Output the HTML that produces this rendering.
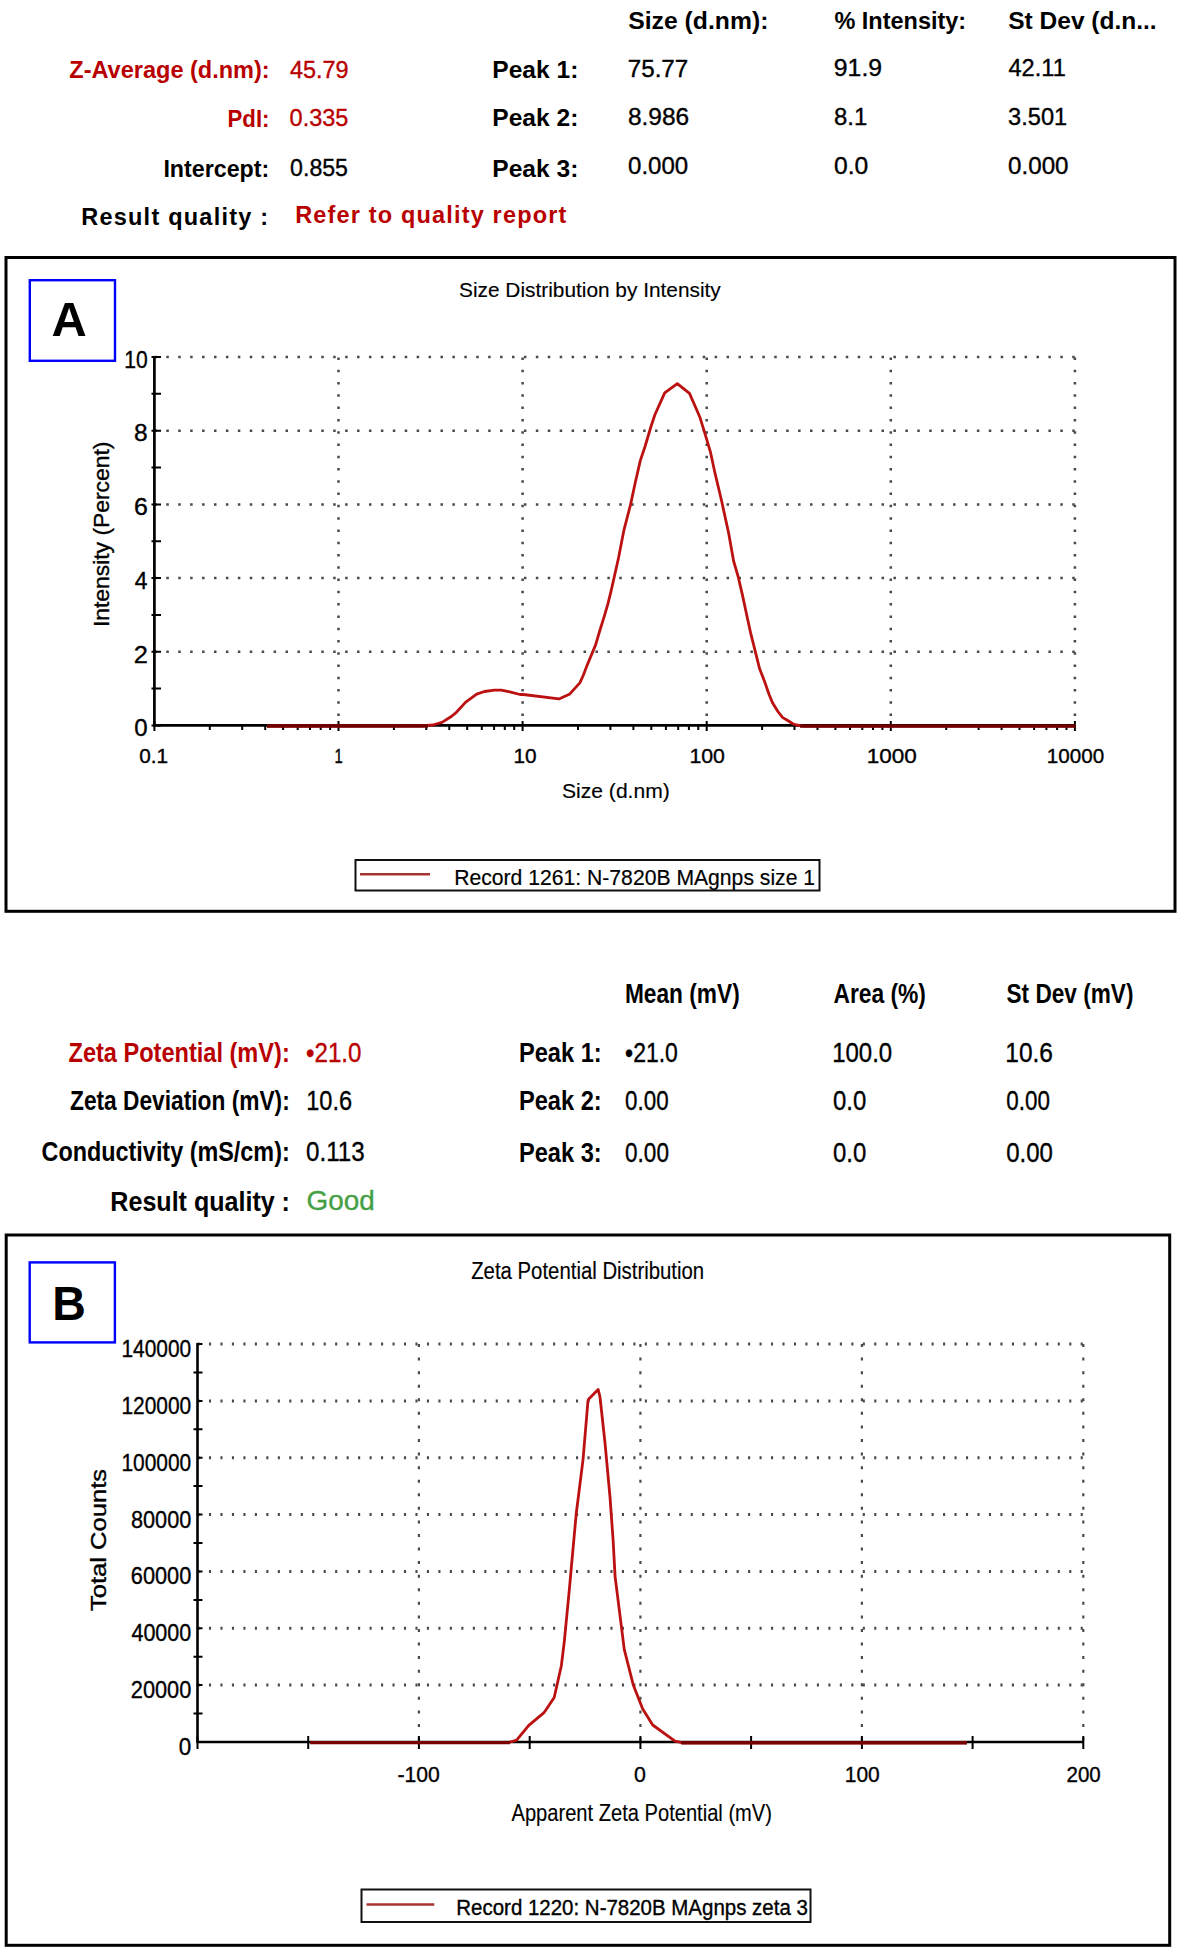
<!DOCTYPE html>
<html><head><meta charset="utf-8"><style>
html,body{margin:0;padding:0;background:#fff;}
body{width:1181px;height:1952px;overflow:hidden;}
svg{display:block;font-family:"Liberation Sans",sans-serif;}
</style></head><body>
<svg width="1181" height="1952" viewBox="0 0 1181 1952">
<rect width="1181" height="1952" fill="#fff"/>
<text x="628.26" y="29.30" font-size="23.5" font-weight="bold" fill="#000" textLength="140.12" lengthAdjust="spacingAndGlyphs">Size (d.nm):</text>
<text x="834.40" y="28.50" font-size="23.5" font-weight="bold" fill="#000" textLength="131.78" lengthAdjust="spacingAndGlyphs">% Intensity:</text>
<text x="1008.27" y="29.00" font-size="23.5" font-weight="bold" fill="#000" textLength="148.42" lengthAdjust="spacingAndGlyphs">St Dev (d.n...</text>
<text x="69.30" y="78.00" font-size="23.5" font-weight="bold" fill="#b80000" textLength="200.40" lengthAdjust="spacingAndGlyphs">Z-Average (d.nm):</text>
<text x="290.00" y="78.00" font-size="23.5" font-weight="normal" fill="#b80000" stroke="#b80000" stroke-width="0.35" textLength="58.61" lengthAdjust="spacingAndGlyphs">45.79</text>
<text x="492.33" y="78.00" font-size="23.5" font-weight="bold" fill="#000" textLength="85.98" lengthAdjust="spacingAndGlyphs">Peak 1:</text>
<text x="627.77" y="76.50" font-size="23.5" font-weight="normal" fill="#000" stroke="#000" stroke-width="0.35" textLength="60.48" lengthAdjust="spacingAndGlyphs">75.77</text>
<text x="833.84" y="76.00" font-size="23.5" font-weight="normal" fill="#000" stroke="#000" stroke-width="0.35" textLength="48.26" lengthAdjust="spacingAndGlyphs">91.9</text>
<text x="1008.50" y="76.00" font-size="23.5" font-weight="normal" fill="#000" stroke="#000" stroke-width="0.35" textLength="57.27" lengthAdjust="spacingAndGlyphs">42.11</text>
<text x="227.49" y="126.50" font-size="23.5" font-weight="bold" fill="#b80000" textLength="41.98" lengthAdjust="spacingAndGlyphs">PdI:</text>
<text x="289.60" y="125.50" font-size="23.5" font-weight="normal" fill="#b80000" stroke="#b80000" stroke-width="0.35" textLength="58.81" lengthAdjust="spacingAndGlyphs">0.335</text>
<text x="492.33" y="125.50" font-size="23.5" font-weight="bold" fill="#000" textLength="85.98" lengthAdjust="spacingAndGlyphs">Peak 2:</text>
<text x="627.96" y="125.00" font-size="23.5" font-weight="normal" fill="#000" stroke="#000" stroke-width="0.35" textLength="61.20" lengthAdjust="spacingAndGlyphs">8.986</text>
<text x="833.98" y="125.30" font-size="23.5" font-weight="normal" fill="#000" stroke="#000" stroke-width="0.35" textLength="33.21" lengthAdjust="spacingAndGlyphs">8.1</text>
<text x="1008.10" y="125.30" font-size="23.5" font-weight="normal" fill="#000" stroke="#000" stroke-width="0.35" textLength="59.12" lengthAdjust="spacingAndGlyphs">3.501</text>
<text x="163.42" y="176.50" font-size="23.5" font-weight="bold" fill="#000" textLength="105.83" lengthAdjust="spacingAndGlyphs">Intercept:</text>
<text x="290.11" y="176.30" font-size="23.5" font-weight="normal" fill="#000" stroke="#000" stroke-width="0.35" textLength="57.88" lengthAdjust="spacingAndGlyphs">0.855</text>
<text x="492.33" y="176.50" font-size="23.5" font-weight="bold" fill="#000" textLength="85.98" lengthAdjust="spacingAndGlyphs">Peak 3:</text>
<text x="628.08" y="174.00" font-size="23.5" font-weight="normal" fill="#000" stroke="#000" stroke-width="0.35" textLength="60.15" lengthAdjust="spacingAndGlyphs">0.000</text>
<text x="834.06" y="174.30" font-size="23.5" font-weight="normal" fill="#000" stroke="#000" stroke-width="0.35" textLength="34.26" lengthAdjust="spacingAndGlyphs">0.0</text>
<text x="1008.07" y="174.30" font-size="23.5" font-weight="normal" fill="#000" stroke="#000" stroke-width="0.35" textLength="60.46" lengthAdjust="spacingAndGlyphs">0.000</text>
<text x="81.23" y="225.00" font-size="23.5" font-weight="bold" fill="#000" textLength="186.86" lengthAdjust="spacing">Result quality :</text>
<text x="295.23" y="223.00" font-size="23.5" font-weight="bold" fill="#b80000" textLength="271.08" lengthAdjust="spacing">Refer to quality report</text>
<rect x="6" y="257.5" width="1169" height="653.8" fill="none" stroke="#000" stroke-width="3"/>
<rect x="29.8" y="280.2" width="85.2" height="80.6" fill="none" stroke="#0000ff" stroke-width="2.4"/>
<text x="51.48" y="336.00" font-size="48" font-weight="bold" fill="#000" textLength="35.20" lengthAdjust="spacingAndGlyphs">A</text>
<text x="459.01" y="297.40" font-size="21" font-weight="normal" fill="#000" stroke="#000" stroke-width="0.15" textLength="261.78" lengthAdjust="spacingAndGlyphs">Size Distribution by Intensity</text>
<path d="M154.4 357.0H1075.9 M154.4 430.7H1075.9 M154.4 504.4H1075.9 M154.4 578.0H1075.9 M154.4 651.7H1075.9" stroke="#4a4a4a" stroke-width="2.5" stroke-dasharray="2.5 9.42" fill="none"/>
<path d="M338.5 357.0V725.4 M522.6 357.0V725.4 M706.7 357.0V725.4 M890.8 357.0V725.4 M1074.9 357.0V725.4" stroke="#4a4a4a" stroke-width="2.5" stroke-dasharray="2.5 9.78" stroke-dashoffset="-0.5" fill="none"/>
<path d="M154.4 356.0V725.4H1074.9" stroke="#000" stroke-width="2.7" fill="none"/>
<path d="M151.5 725.4H161 M151.5 688.6H161 M151.5 651.7H161 M151.5 614.9H161 M151.5 578.0H161 M151.5 541.2H161 M151.5 504.4H161 M151.5 467.5H161 M151.5 430.7H161 M151.5 393.8H161 M151.5 357.0H161 M154.4 721V731 M209.8 724V730 M242.2 724V730 M265.2 724V730 M283.1 724V730 M297.7 724V730 M310.0 724V730 M320.7 724V730 M330.1 724V730 M338.5 721V731 M393.9 724V730 M426.3 724V730 M449.3 724V730 M467.2 724V730 M481.8 724V730 M494.1 724V730 M504.8 724V730 M514.2 724V730 M522.6 721V731 M578.0 724V730 M610.4 724V730 M633.4 724V730 M651.3 724V730 M665.9 724V730 M678.2 724V730 M688.9 724V730 M698.3 724V730 M706.7 721V731 M762.1 724V730 M794.5 724V730 M817.5 724V730 M835.4 724V730 M850.0 724V730 M862.3 724V730 M873.0 724V730 M882.4 724V730 M890.8 721V731 M946.2 724V730 M978.6 724V730 M1001.6 724V730 M1019.5 724V730 M1034.1 724V730 M1046.4 724V730 M1057.1 724V730 M1066.5 724V730 M1074.9 721V731" stroke="#000" stroke-width="2" fill="none"/>
<text x="124.35" y="367.80" font-size="23" font-weight="normal" fill="#000" stroke="#000" stroke-width="0.35" textLength="23.46" lengthAdjust="spacingAndGlyphs">10</text>
<text x="134.14" y="441.48" font-size="23" font-weight="normal" fill="#000" stroke="#000" stroke-width="0.35" textLength="13.62" lengthAdjust="spacingAndGlyphs">8</text>
<text x="133.90" y="515.16" font-size="23" font-weight="normal" fill="#000" stroke="#000" stroke-width="0.35" textLength="13.88" lengthAdjust="spacingAndGlyphs">6</text>
<text x="134.70" y="588.84" font-size="23" font-weight="normal" fill="#000" stroke="#000" stroke-width="0.35" textLength="12.68" lengthAdjust="spacingAndGlyphs">4</text>
<text x="133.87" y="662.52" font-size="23" font-weight="normal" fill="#000" stroke="#000" stroke-width="0.35" textLength="14.15" lengthAdjust="spacingAndGlyphs">2</text>
<text x="134.26" y="736.20" font-size="23" font-weight="normal" fill="#000" stroke="#000" stroke-width="0.35" textLength="13.37" lengthAdjust="spacingAndGlyphs">0</text>
<text x="139.17" y="763.00" font-size="20" font-weight="normal" fill="#000" stroke="#000" stroke-width="0.35" textLength="28.87" lengthAdjust="spacingAndGlyphs">0.1</text>
<text x="334.48" y="763.00" font-size="20" font-weight="normal" fill="#000" stroke="#000" stroke-width="0.35" textLength="8.28" lengthAdjust="spacingAndGlyphs">1</text>
<text x="513.44" y="763.00" font-size="20" font-weight="normal" fill="#000" stroke="#000" stroke-width="0.35" textLength="23.14" lengthAdjust="spacingAndGlyphs">10</text>
<text x="689.40" y="763.00" font-size="20" font-weight="normal" fill="#000" stroke="#000" stroke-width="0.35" textLength="35.52" lengthAdjust="spacingAndGlyphs">100</text>
<text x="866.81" y="763.00" font-size="20" font-weight="normal" fill="#000" stroke="#000" stroke-width="0.35" textLength="50.08" lengthAdjust="spacingAndGlyphs">1000</text>
<text x="1046.85" y="763.00" font-size="20" font-weight="normal" fill="#000" stroke="#000" stroke-width="0.35" textLength="57.39" lengthAdjust="spacingAndGlyphs">10000</text>
<text x="562.00" y="797.60" font-size="21" font-weight="normal" fill="#000" stroke="#000" stroke-width="0.15" textLength="107.77" lengthAdjust="spacingAndGlyphs">Size (d.nm)</text>
<g transform="translate(108.5,625) rotate(-90)">
<text x="-2.08" y="0.00" font-size="22" font-weight="normal" fill="#000" stroke="#000" stroke-width="0.35" textLength="185.45" lengthAdjust="spacingAndGlyphs">Intensity (Percent)</text>
</g>
<rect x="355.5" y="860" width="464" height="30.5" fill="none" stroke="#111" stroke-width="2"/>
<path d="M360 874.3H430" stroke="#a83232" stroke-width="2.5"/>
<text x="454.23" y="884.60" font-size="21.5" font-weight="normal" fill="#000" stroke="#000" stroke-width="0.2" textLength="360.86" lengthAdjust="spacingAndGlyphs">Record 1261: N-7820B MAgnps size 1</text>
<polyline points="267,726 420,725.8 432.7,725 442,722.4 451.3,716.5 456.4,712.3 465.7,702.1 476.7,694.1 484.4,691.5 494.5,690.2 501.3,690.2 509.8,691.9 520,694.5 523.3,694.5 558.9,698.9 569.9,693.9 580,682.6 583.3,675.2 587.4,664.6 591.5,654.8 595.6,644.9 599.7,631 603.8,617.9 607.9,603.9 611.1,590.8 615.2,572.8 618.5,558 623.8,530.7 630.6,504.4 635.4,482 640.3,460.6 645.2,446 651,426.5 654.9,414.8 664.7,392.9 677.3,383.6 689.5,393.4 699.7,416.7 704.6,432.3 710.4,451.8 715,473.2 721.4,500 728.8,533.9 733.6,561 738.3,577.2 742.4,594.9 747.8,620 750.8,633.6 754.2,647.1 756.9,657.9 759.6,668.8 764.4,681 769.1,694.5 772.5,702.7 777.9,711.5 782.7,717.6 787.4,720.3 792.8,723.7 796.2,725 804.4,726.2 1075,726.2" fill="none" stroke="#bb1111" stroke-width="2.8" stroke-linejoin="round"/>
<path d="M267 726H428 M800 726.1H1075.5" stroke="#720000" stroke-width="3.4" fill="none"/>
<text x="624.91" y="1002.80" font-size="27.5" font-weight="bold" fill="#000" textLength="114.80" lengthAdjust="spacingAndGlyphs">Mean (mV)</text>
<text x="833.42" y="1003.00" font-size="27.5" font-weight="bold" fill="#000" textLength="92.51" lengthAdjust="spacingAndGlyphs">Area (%)</text>
<text x="1006.54" y="1003.00" font-size="27.5" font-weight="bold" fill="#000" textLength="126.96" lengthAdjust="spacingAndGlyphs">St Dev (mV)</text>
<text x="68.51" y="1061.80" font-size="27.5" font-weight="bold" fill="#b80000" textLength="221.23" lengthAdjust="spacingAndGlyphs">Zeta Potential (mV):</text>
<text x="306.04" y="1061.80" font-size="27.5" font-weight="normal" fill="#b80000" stroke="#b80000" stroke-width="0.35" textLength="55.39" lengthAdjust="spacingAndGlyphs">•21.0</text>
<text x="518.95" y="1061.80" font-size="27.5" font-weight="bold" fill="#000" textLength="82.69" lengthAdjust="spacingAndGlyphs">Peak 1:</text>
<text x="625.08" y="1061.80" font-size="27.5" font-weight="normal" fill="#000" stroke="#000" stroke-width="0.35" textLength="52.80" lengthAdjust="spacingAndGlyphs">•21.0</text>
<text x="832.17" y="1062.00" font-size="27.5" font-weight="normal" fill="#000" stroke="#000" stroke-width="0.35" textLength="60.00" lengthAdjust="spacingAndGlyphs">100.0</text>
<text x="1005.33" y="1062.00" font-size="27.5" font-weight="normal" fill="#000" stroke="#000" stroke-width="0.35" textLength="47.66" lengthAdjust="spacingAndGlyphs">10.6</text>
<text x="70.04" y="1110.00" font-size="27.5" font-weight="bold" fill="#000" textLength="219.67" lengthAdjust="spacingAndGlyphs">Zeta Deviation (mV):</text>
<text x="306.20" y="1110.00" font-size="27.5" font-weight="normal" fill="#000" stroke="#000" stroke-width="0.35" textLength="45.85" lengthAdjust="spacingAndGlyphs">10.6</text>
<text x="518.95" y="1110.10" font-size="27.5" font-weight="bold" fill="#000" textLength="82.69" lengthAdjust="spacingAndGlyphs">Peak 2:</text>
<text x="625.11" y="1110.00" font-size="27.5" font-weight="normal" fill="#000" stroke="#000" stroke-width="0.35" textLength="43.51" lengthAdjust="spacingAndGlyphs">0.00</text>
<text x="833.04" y="1110.00" font-size="27.5" font-weight="normal" fill="#000" stroke="#000" stroke-width="0.35" textLength="33.24" lengthAdjust="spacingAndGlyphs">0.0</text>
<text x="1006.30" y="1110.00" font-size="27.5" font-weight="normal" fill="#000" stroke="#000" stroke-width="0.35" textLength="43.61" lengthAdjust="spacingAndGlyphs">0.00</text>
<text x="41.56" y="1161.00" font-size="27.5" font-weight="bold" fill="#000" textLength="248.17" lengthAdjust="spacingAndGlyphs">Conductivity (mS/cm):</text>
<text x="306.03" y="1161.00" font-size="27.5" font-weight="normal" fill="#000" stroke="#000" stroke-width="0.35" textLength="58.60" lengthAdjust="spacingAndGlyphs">0.113</text>
<text x="518.95" y="1161.60" font-size="27.5" font-weight="bold" fill="#000" textLength="82.69" lengthAdjust="spacingAndGlyphs">Peak 3:</text>
<text x="625.10" y="1162.00" font-size="27.5" font-weight="normal" fill="#000" stroke="#000" stroke-width="0.35" textLength="43.82" lengthAdjust="spacingAndGlyphs">0.00</text>
<text x="833.04" y="1162.00" font-size="27.5" font-weight="normal" fill="#000" stroke="#000" stroke-width="0.35" textLength="33.24" lengthAdjust="spacingAndGlyphs">0.0</text>
<text x="1006.24" y="1162.00" font-size="27.5" font-weight="normal" fill="#000" stroke="#000" stroke-width="0.35" textLength="46.74" lengthAdjust="spacingAndGlyphs">0.00</text>
<text x="110.36" y="1210.60" font-size="27.5" font-weight="bold" fill="#000" textLength="179.61" lengthAdjust="spacingAndGlyphs">Result quality :</text>
<text x="306.58" y="1209.80" font-size="27.5" font-weight="normal" fill="#45a045" stroke="#45a045" stroke-width="0.35" textLength="68.22" lengthAdjust="spacingAndGlyphs">Good</text>
<rect x="6.2" y="1235" width="1163.5" height="710.3" fill="none" stroke="#000" stroke-width="3"/>
<rect x="29.7" y="1262.4" width="85.2" height="80" fill="none" stroke="#0000ff" stroke-width="2.4"/>
<text x="52.30" y="1319.80" font-size="48" font-weight="bold" fill="#000" textLength="33.60" lengthAdjust="spacingAndGlyphs">B</text>
<text x="471.18" y="1279.20" font-size="23" font-weight="normal" fill="#000" stroke="#000" stroke-width="0.15" textLength="233.01" lengthAdjust="spacingAndGlyphs">Zeta Potential Distribution</text>
<path d="M197.5 1685.1H1084.3 M197.5 1628.3H1084.3 M197.5 1571.4H1084.3 M197.5 1514.6H1084.3 M197.5 1457.7H1084.3 M197.5 1400.9H1084.3 M197.5 1344.0H1084.3" stroke="#4a4a4a" stroke-width="3" stroke-dasharray="2.1 9.37" fill="none"/>
<path d="M418.9 1344V1742 M640.4 1344V1742 M861.9 1344V1742 M1083.3 1344V1742" stroke="#4a4a4a" stroke-width="2.2" stroke-dasharray="3 10.57" fill="none"/>
<path d="M197.5 1343V1742H1083.3" stroke="#000" stroke-width="2.6" fill="none"/>
<path d="M197.5 1742.0H202.5 M193.5 1713.6H202.5 M197.5 1685.1H202.5 M193.5 1656.7H202.5 M197.5 1628.3H202.5 M193.5 1599.9H202.5 M197.5 1571.4H202.5 M193.5 1543.0H202.5 M197.5 1514.6H202.5 M193.5 1486.1H202.5 M197.5 1457.7H202.5 M193.5 1429.3H202.5 M197.5 1400.9H202.5 M193.5 1372.4H202.5 M197.5 1344.0H202.5 M197.5 1736V1749 M308.2 1736V1749 M418.9 1736V1749 M529.7 1736V1749 M640.4 1736V1749 M751.1 1736V1749 M861.9 1736V1749 M972.6 1736V1749 M1083.3 1736V1749" stroke="#000" stroke-width="2" fill="none"/>
<text x="178.84" y="1755.00" font-size="23.5" font-weight="normal" fill="#000" stroke="#000" stroke-width="0.35" textLength="12.49" lengthAdjust="spacingAndGlyphs">0</text>
<text x="130.79" y="1698.14" font-size="23.5" font-weight="normal" fill="#000" stroke="#000" stroke-width="0.35" textLength="60.50" lengthAdjust="spacingAndGlyphs">20000</text>
<text x="131.44" y="1641.29" font-size="23.5" font-weight="normal" fill="#000" stroke="#000" stroke-width="0.35" textLength="59.84" lengthAdjust="spacingAndGlyphs">40000</text>
<text x="130.79" y="1584.43" font-size="23.5" font-weight="normal" fill="#000" stroke="#000" stroke-width="0.35" textLength="60.50" lengthAdjust="spacingAndGlyphs">60000</text>
<text x="130.98" y="1527.57" font-size="23.5" font-weight="normal" fill="#000" stroke="#000" stroke-width="0.35" textLength="60.31" lengthAdjust="spacingAndGlyphs">80000</text>
<text x="121.50" y="1470.71" font-size="23.5" font-weight="normal" fill="#000" stroke="#000" stroke-width="0.35" textLength="69.73" lengthAdjust="spacingAndGlyphs">100000</text>
<text x="121.50" y="1413.86" font-size="23.5" font-weight="normal" fill="#000" stroke="#000" stroke-width="0.35" textLength="69.73" lengthAdjust="spacingAndGlyphs">120000</text>
<text x="121.50" y="1357.00" font-size="23.5" font-weight="normal" fill="#000" stroke="#000" stroke-width="0.35" textLength="69.73" lengthAdjust="spacingAndGlyphs">140000</text>
<text x="397.44" y="1782.40" font-size="22" font-weight="normal" fill="#000" stroke="#000" stroke-width="0.35" textLength="42.36" lengthAdjust="spacingAndGlyphs">-100</text>
<text x="633.93" y="1782.40" font-size="22" font-weight="normal" fill="#000" stroke="#000" stroke-width="0.35" textLength="11.89" lengthAdjust="spacingAndGlyphs">0</text>
<text x="844.78" y="1782.40" font-size="22" font-weight="normal" fill="#000" stroke="#000" stroke-width="0.35" textLength="34.99" lengthAdjust="spacingAndGlyphs">100</text>
<text x="1066.47" y="1782.40" font-size="22" font-weight="normal" fill="#000" stroke="#000" stroke-width="0.35" textLength="34.28" lengthAdjust="spacingAndGlyphs">200</text>
<text x="511.52" y="1821.00" font-size="24" font-weight="normal" fill="#000" stroke="#000" stroke-width="0.15" textLength="260.47" lengthAdjust="spacingAndGlyphs">Apparent Zeta Potential (mV)</text>
<g transform="translate(105.5,1610.5) rotate(-90)">
<text x="-0.59" y="0.00" font-size="21.5" font-weight="normal" fill="#000" stroke="#000" stroke-width="0.35" textLength="142.14" lengthAdjust="spacingAndGlyphs">Total Counts</text>
</g>
<rect x="361.5" y="1889.5" width="449" height="32.5" fill="none" stroke="#111" stroke-width="2"/>
<path d="M366.5 1904.6H434.3" stroke="#a83232" stroke-width="2.5"/>
<text x="456.29" y="1915.20" font-size="21.5" font-weight="normal" fill="#000" stroke="#000" stroke-width="0.35" textLength="351.58" lengthAdjust="spacingAndGlyphs">Record 1220: N-7820B MAgnps zeta 3</text>
<polyline points="310,1742.5 508.4,1742.5 516.6,1740.2 528.8,1725.3 544,1712.7 554.2,1697.5 561.3,1666 564.3,1641.6 569.4,1588.8 572,1560 576.2,1514 583,1459.8 588,1400.5 589,1398.8 598.2,1389.5 600,1397 605,1442.8 610,1497 613.1,1540 615.1,1576.6 624.3,1649.7 633.4,1685.3 642.6,1708.7 652.7,1725 675,1741.2 683.2,1742.8 967,1742.8" fill="none" stroke="#bb1111" stroke-width="2.8" stroke-linejoin="round"/>
<path d="M310 1742.7H510 M681 1742.8H967" stroke="#780000" stroke-width="3.2" fill="none"/>
</svg>
</body></html>
